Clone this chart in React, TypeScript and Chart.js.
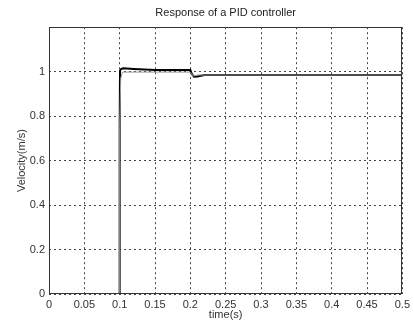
import React, { useEffect, useRef } from "react";
import { Chart, registerables } from "chart.js";

Chart.register(...registerables);

const TITLE = "Response of a PID controller";
const X_LABEL = "time(s)";
const Y_LABEL = "Velocity(m/s)";

const blackX = [0.031, 0.1, 0.1, 0.1005, 0.102, 0.105, 0.12, 0.15, 0.18, 0.2, 0.202, 0.205, 0.21, 0.215, 0.22, 0.3, 0.4, 0.5];
const blackY = [0, 0, 0.75, 1.005, 1.012, 1.015, 1.012, 1.008, 1.008, 1.007, 0.99, 0.977, 0.978, 0.982, 0.985, 0.985, 0.985, 0.985];

const grayX = [0.1, 0.1, 0.1015, 0.104, 0.2, 0.204, 0.21, 0.5];
const grayY = [0, 0.75, 0.97, 0.998, 0.998, 0.98, 0.985, 0.985];

const X_MIN = 0;
const X_MAX = 0.5;
const X_STEP = 0.05;
const Y_MIN = 0;
const Y_MAX = 1.2;
const Y_STEP = 0.2;

const fmt = (v: number) => String(Number(v.toFixed(3)));

const boxPlugin = {
  id: "box",
  afterDraw(chart: any) {
    const { ctx, chartArea } = chart;
    ctx.save();
    ctx.strokeStyle = "#333";
    ctx.lineWidth = 1;
    ctx.setLineDash([]);
    ctx.strokeRect(
      Math.round(chartArea.left) + 0.5,
      Math.round(chartArea.top) + 0.5,
      Math.round(chartArea.right - chartArea.left) - 1,
      Math.round(chartArea.bottom - chartArea.top) - 1
    );
    ctx.restore();
  },
};

export default function App() {
  const ref = useRef<HTMLCanvasElement | null>(null);

  useEffect(() => {
    document.body.style.margin = "0";
    const font = { family: "'Liberation Sans', Arial, sans-serif", size: 11 };
    const chart = new Chart(ref.current as HTMLCanvasElement, {
      type: "scatter",
      data: {
        datasets: [
          {
            data: grayX.map((x, i) => ({ x, y: grayY[i] })),
            showLine: true,
            borderColor: "#9a9a9a",
            borderWidth: 1,
            pointRadius: 0,
            fill: false,
          },
          {
            data: blackX.map((x, i) => ({ x, y: blackY[i] })),
            showLine: true,
            borderColor: "#000",
            borderWidth: 2,
            pointRadius: 0,
            fill: false,
          },
        ],
      },
      options: {
        responsive: false,
        animation: false,
        layout: { padding: { left: 0, right: 11, top: 0, bottom: 0 } },
        plugins: {
          legend: { display: false },
          tooltip: { enabled: false },
          title: {
            display: true,
            fullSize: false,
            text: TITLE,
            color: "#222",
            font: { ...font, weight: "normal" },
            padding: { top: 6, bottom: 8 },
          },
        },
        scales: {
          x: {
            type: "linear",
            min: X_MIN,
            max: X_MAX,
            ticks: {
              stepSize: X_STEP,
              color: "#333",
              font,
              padding: 4,
              maxRotation: 0,
              autoSkip: false,
              callback: (v: any) => fmt(Number(v)),
            },
            grid: { color: "#444", lineWidth: 1, drawTicks: false },
            border: { display: false, dash: [2, 3] },
            title: {
              display: true,
              text: X_LABEL,
              color: "#333",
              font,
              padding: { top: 0, bottom: 4 },
            },
            afterFit: (s: any) => {
              s.height = 32;
            },
          },
          y: {
            type: "linear",
            min: Y_MIN,
            max: Y_MAX,
            ticks: {
              stepSize: Y_STEP,
              color: "#333",
              font,
              padding: 4,
              autoSkip: false,
              callback: (v: any) => (Number(v) > 1.1 ? "" : fmt(Number(v))),
            },
            grid: { color: "#444", lineWidth: 1, drawTicks: false },
            border: { display: false, dash: [2, 3] },
            title: {
              display: true,
              text: Y_LABEL,
              color: "#333",
              font,
              padding: { top: 15, bottom: 0 },
            },
            afterFit: (s: any) => {
              s.width = 49;
            },
          },
        },
      },
      plugins: [boxPlugin],
    });
    return () => chart.destroy();
  }, []);

  return (
    <div style={{ width: 414, height: 326 }}>
      <canvas ref={ref} width={414} height={326} />
    </div>
  );
}
